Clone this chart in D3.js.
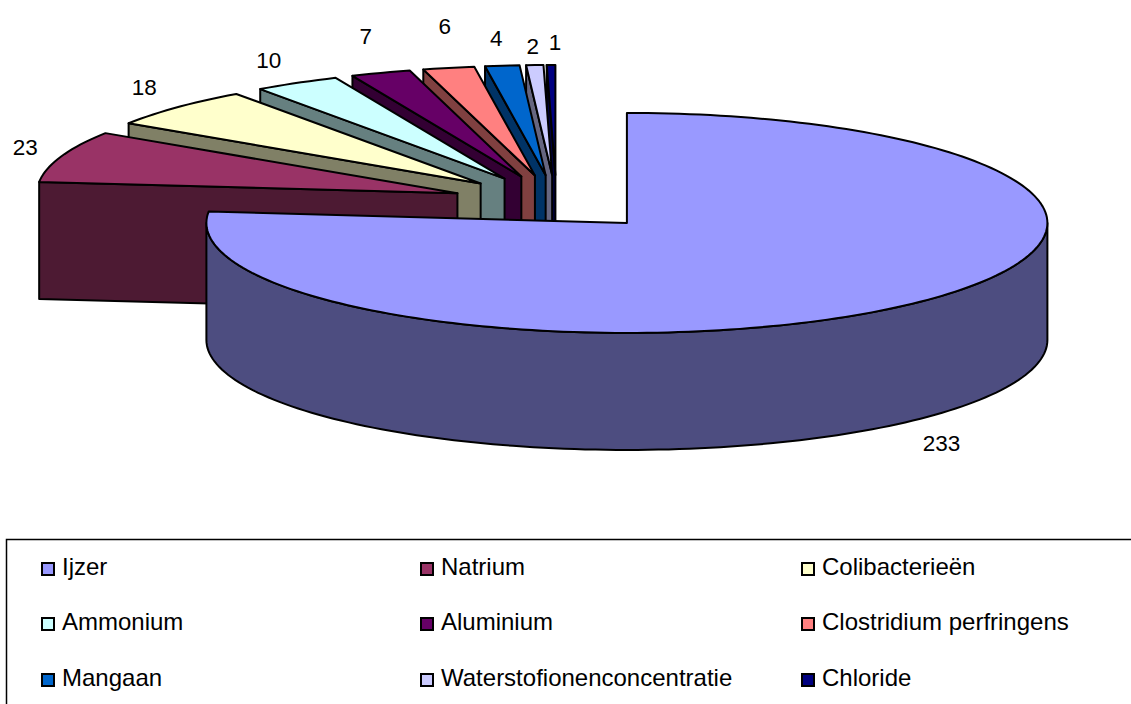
<!DOCTYPE html>
<html>
<head>
<meta charset="utf-8">
<style>
  html, body { margin: 0; padding: 0; background: #fff; overflow: hidden; }
  text { font-family: "Liberation Sans", Arial, sans-serif; fill: #000; }
</style>
<script src="https://cdn.jsdelivr.net/npm/d3@7/dist/d3.min.js"></script>
</head>
<body>
<svg id="chart" width="1131" height="704"></svg>
<script>
// Parameters exceeded per substance
const categories = ["Ijzer", "Natrium", "Colibacterieën", "Ammonium", "Aluminium",
  "Clostridium perfringens", "Mangaan", "Waterstofionenconcentratie", "Chloride"];
const values = [233, 23, 18, 10, 7, 6, 4, 2, 1];
const topColors = ["#9999FF", "#993366", "#FFFFCC", "#CCFFFF", "#660066",
  "#FF8080", "#0066CC", "#CCCCFF", "#000080"];
const sideColors = ["#4D4D80", "#4D1A33", "#808066", "#668080", "#330033",
  "#804040", "#003366", "#666680", "#000040"];

// Pie geometry: tilted ellipse, extrusion depth and slice explosion
const centre = { x: 556.5, y: 202.5 };
const radiusX = 420.5, radiusY = 110, depth = 117, explosion = 0.25;

// Nudges that carry each value label clear of its slice
const labelNudgeX = [33, -36, -33, -28, -15, -4, -6, -2, 4];
const labelNudgeY = [21, -10, -20, -23, -37, -42, -28, -19, -23];

const legendColumns = [41, 420, 801];
const legendRows = [569, 624, 680];
const labelFontSize = 22.5;
const legendFontSize = 24;

const svg = d3.select("#chart");
const fill = d3.scaleOrdinal().domain(categories).range(topColors);
const side = d3.scaleOrdinal().domain(categories).range(sideColors);

const arcs = d3.pie().sort(null).value(d => d.value)
  (categories.map((name, i) => ({ name, value: values[i], i })));

// Project a pie angle (clockwise from twelve o'clock) onto the tilted plane
const project = (origin, a, r = 1) => [
  origin.x + radiusX * r * Math.sin(a),
  origin.y - radiusY * r * Math.cos(a)
];
const apexOf = d => {
  const mid = (d.startAngle + d.endAngle) / 2;
  return { x: centre.x + explosion * radiusX * Math.sin(mid),
           y: centre.y - explosion * radiusY * Math.cos(mid) };
};
const sweep = (origin, a0, a1) => {
  const n = Math.max(2, Math.ceil(Math.abs(a1 - a0) * 40));
  return d3.range(n + 1).map(k => project(origin, a0 + (a1 - a0) * k / n));
};
const down = p => [p[0], p[1] + depth];
const line = d3.line();

const style = sel => sel.attr("stroke", "#000").attr("stroke-width", 2)
  .attr("stroke-linejoin", "round");

const pieLayer = svg.append("g");

// Back slices first so nearer ones overlap them, the large slice last
arcs.slice().reverse().forEach(d => {
  const apex = apexOf(d);
  const g = pieLayer.append("g");
  const name = d.data.name;

  // Cut face along the slice's leading edge
  if (d.startAngle > Math.PI) {
    const rim = project(apex, d.startAngle);
    const a = [apex.x, apex.y];
    g.append("path").attr("d", line([a, rim, down(rim), down(a)]) + "Z")
      .attr("fill", side(name)).call(style);
  }

  // Outer wall on the part of the rim that faces the viewer
  const w0 = Math.max(d.startAngle, Math.PI / 2);
  const w1 = Math.min(d.endAngle, 3 * Math.PI / 2);
  if (w1 > w0) {
    const rimTop = sweep(apex, w0, w1);
    const rimBottom = rimTop.map(down).reverse();
    g.append("path").attr("d", line(rimTop.concat(rimBottom)) + "Z")
      .attr("fill", side(name)).call(style);
  }

  // Top surface
  const top = [[apex.x, apex.y]].concat(sweep(apex, d.startAngle, d.endAngle));
  g.append("path").attr("d", line(top) + "Z")
    .attr("fill", fill(name)).call(style);
});

// Value labels
svg.append("g").selectAll("text").data(arcs).join("text")
  .attr("text-anchor", "middle")
  .attr("font-size", labelFontSize)
  .attr("x", d => {
    const mid = (d.startAngle + d.endAngle) / 2;
    return project(apexOf(d), mid)[0] + labelNudgeX[d.data.i];
  })
  .attr("y", d => {
    const mid = (d.startAngle + d.endAngle) / 2;
    const p = project(apexOf(d), mid);
    const front = Math.cos(mid) < 0 ? depth : 0;
    return p[1] + front + labelNudgeY[d.data.i] + labelFontSize * 0.36;
  })
  .text(d => d.value);

// Legend frame runs off the right and bottom edges of the page
svg.append("path").attr("d", "M6.5,704V539.5H1131")
  .attr("fill", "none").attr("stroke", "#000").attr("stroke-width", 1.5);

const legend = svg.append("g").selectAll("g").data(categories).join("g")
  .attr("transform", (d, i) =>
    `translate(${legendColumns[i % 3]},${legendRows[Math.floor(i / 3)]})`);
legend.append("rect")
  .attr("x", 1).attr("y", -6).attr("width", 12).attr("height", 12)
  .attr("fill", d => fill(d)).attr("stroke", "#000").attr("stroke-width", 2);
legend.append("text")
  .attr("x", 21).attr("y", 6).attr("font-size", legendFontSize)
  .text(d => d);
</script>
</body>
</html>
